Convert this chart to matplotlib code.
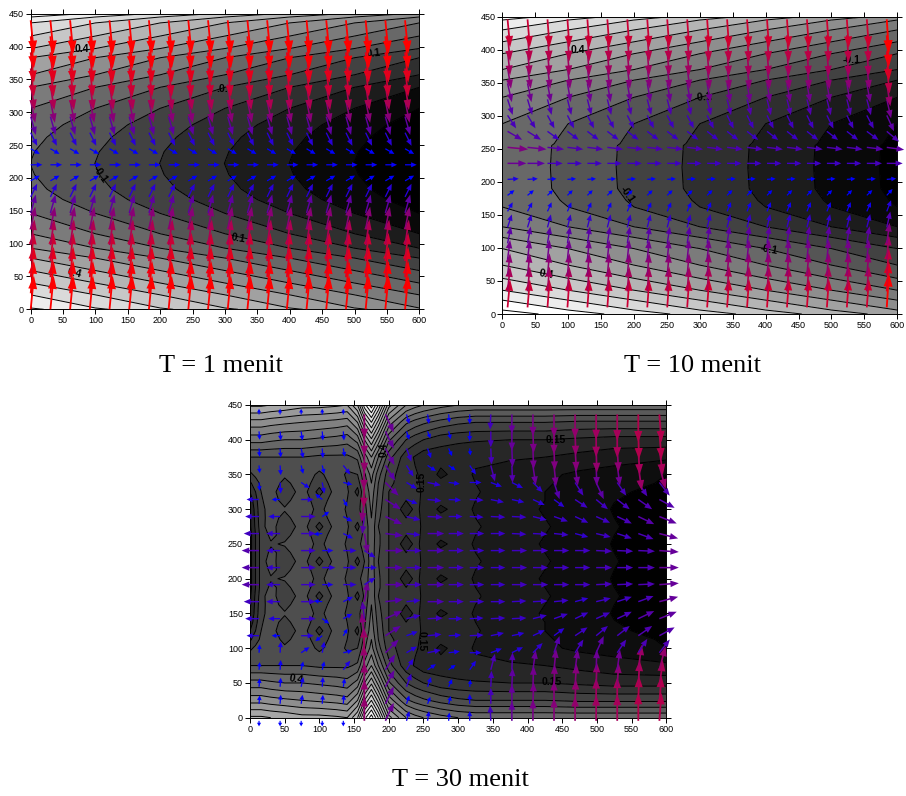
import numpy as np
import matplotlib
matplotlib.use("Agg")
import matplotlib.pyplot as plt
from matplotlib.colors import LinearSegmentedColormap, Normalize

W, H = 906, 796

# panel 1 : water level, column offset + profile along y
y1 = [0, 2, 22, 40, 59, 78, 93, 115, 146, 167, 183, 205, 222, 240, 262, 281, 306, 338, 357, 383, 397, 416, 436, 445, 450]
profile1 = [.82, .8, .7, .6, .5, .4, .3, .2, .1, .05, .025, .006, -.001, .006, .025, .05, .1, .2, .3, .4, .5, .6, .7, .8, .88]
x_grid = [0, 100, 200, 300, 400, 500, 600]
drop1 = [0, -.1, -.2, -.3, -.4, -.5, -.6]

# panel 2
y2 = [0, 6, 21, 36, 54, 74, 99, 116, 132, 162, 172, 183, 190, 222, 255, 258, 270, 288, 328, 354, 370, 394, 412, 430, 445, 450]
profile2 = [.88, .825, .725, .625, .525, .425, .325, .225, .125, .025, .013, .005, 0, -.002, 0, .004, .012, .025, .125, .225, .325, .425, .525, .625, .725, .78]
drop2 = [.075, -.025, -.125, -.225, -.325, -.425, -.525]

# arrows panel 1, by row from the centre outward
u1 = [18, 14, 10, 8, 7, 6, 5, 5, 5, 5]
v1 = [0, 8, 20, 28, 34, 39, 43, 46, 49, 51]

# arrows panel 2, by row from bottom
u2 = [3, 3, 3, 3, 4, 5, 6, 8, 13, 22, 24, 17, 10, 6, 5, 4, 3, 3, 3]
v2 = [43, 38, 34, 30, 26, 20, 14, 8, 1, 0, -3, -13, -20, -24, -29, -33, -37, -40, -43]
u_gain2 = [1.3, 1.2, 1.05, 1, 1, 1, 1, 1, 1, 1, 1, 1, 1, 1, 1, 1, 1, 1, 1.05, 1.1]
v_gain2 = [.98, .98, .98, .98, .98, .98, .98, .98, .98, .98, 1, 1, 1, 1, 1, 1, 1, 1, 1, 1.2]

# panel 3 : level by row from y=225 up to y=450, bottom half is the mirror
x3 = [0, 8, 16, 30, 50, 75, 100, 125, 140, 155, 165, 175, 185, 200, 225, 238, 250, 275, 300, 325, 375, 425, 475, 525, 600]
y3_up = [225, 237.5, 250, 262.5, 275, 287.5, 300, 312.5, 325, 337.5, 350, 375, 400, 425, 450]
z3_up = [
    [.08, .15, .22, .28, .20, .28, .18, .28, .26, .18, .25, .33, .25, .20, .18, .17, .14, .125, .125, .105, .075, .055, .025, .003, -.03],
    [.08, .15, .22, .26, .235, .28, .22, .285, .25, .22, .26, .33, .255, .20, .15, .165, .14, .115, .122, .10, .075, .05, .025, 0, -.03],
    [.08, .15, .22, .245, .255, .28, .235, .29, .24, .235, .27, .33, .26, .20, .125, .16, .14, .088, .12, .095, .075, .045, .025, -.003, -.03],
    [.08, .15, .22, .26, .235, .28, .22, .285, .25, .22, .265, .335, .26, .20, .15, .165, .14, .115, .122, .10, .075, .05, .025, 0, -.028],
    [.09, .16, .23, .28, .20, .28, .18, .28, .26, .18, .26, .34, .25, .20, .18, .17, .14, .125, .125, .105, .075, .055, .025, .003, -.025],
    [.09, .165, .235, .27, .235, .28, .22, .285, .25, .22, .27, .35, .26, .20, .15, .165, .14, .115, .122, .10, .075, .05, .025, 0, -.022],
    [.10, .17, .24, .265, .255, .28, .235, .29, .24, .235, .28, .36, .27, .20, .125, .16, .14, .088, .12, .095, .075, .045, .025, -.003, -.02],
    [.12, .18, .245, .27, .235, .28, .22, .285, .25, .22, .29, .37, .28, .20, .15, .165, .14, .115, .122, .10, .073, .05, .027, .001, -.015],
    [.15, .20, .25, .28, .20, .28, .18, .28, .26, .18, .30, .38, .29, .20, .18, .17, .14, .125, .125, .105, .07, .05, .03, .005, -.01],
    [.19, .23, .26, .28, .235, .28, .22, .28, .25, .22, .32, .40, .30, .21, .175, .16, .14, .115, .122, .10, .075, .055, .035, .018, -.005],
    [.24, .26, .27, .28, .26, .28, .24, .28, .24, .25, .34, .42, .32, .22, .17, .155, .14, .088, .12, .095, .08, .06, .04, .03, .00],
    [.30, .30, .30, .30, .30, .30, .29, .29, .29, .31, .42, .50, .40, .27, .17, .145, .12, .12, .115, .11, .105, .10, .085, .07, .06],
    [.42, .42, .42, .41, .40, .40, .39, .38, .37, .42, .55, .64, .53, .36, .25, .22, .20, .17, .16, .155, .15, .15, .14, .13, .13],
    [.53, .53, .53, .52, .51, .50, .49, .48, .47, .55, .70, .80, .68, .48, .36, .33, .31, .28, .26, .25, .25, .25, .24, .24, .24],
    [.66, .66, .66, .65, .64, .62, .62, .61, .60, .70, .88, .98, .85, .62, .50, .47, .45, .42, .40, .39, .39, .39, .39, .39, .39],
]

# arrows panel 3 : one line per column, from centre row outward
u3 = [
    [-25, -25, -22, -20, -18, 1, 1, 1, 1, 0],
    [-20, -20, -20, -17, -12, 1, 1, 1, 1, 0],
    [21, 21, 21, 21, 18, 12, 3, 3, 2, 0],
    [19, 16, -12, 10, -10, 3, 3, 1, 1, 0],
    [19, 19, 14, 13, 6, 13, 10, 2, 1, 0],
    [18, 16, 5, -3, -4, -1, -1, 0, 0, 0],
    [25, 26, 25, 24, 22, 19, 14, 13, 12, 12],
    [22, 22, 20, 20, 16, 15, 10, 7, 4, 4],
    [24, 24, 24, 22, 20, 19, 12, 5, 4, 2],
    [22, 22, 22, 20, 18, 16, 10, 5, 3, 1],
    [21, 21, 21, 20, 20, 17, 9, 1, 0, 0],
    [21, 21, 21, 21, 19, 16, 6, 1, 0, -1],
    [22, 22, 21, 21, 18, 16, 1, 1, 0, 0],
    [22, 22, 21, 20, 17, 14, 4, 1, 1, 0],
    [22, 22, 21, 20, 15, 8, 3, 1, 0, 0],
    [22, 22, 19, 19, 18, 12, 4, 2, 1, 0],
    [23, 23, 21, 20, 17, 11, 1, 1, 0, 0],
    [23, 23, 21, 21, 18, 13, 4, 2, 0, 0],
    [24, 24, 22, 23, 20, 13, 5, 2, 1, 0],
    [28, 28, 27, 25, 22, 15, 9, 5, 3, 3],
]
v3 = [
    [0, 0, 0, 0, 0, -12, -11, -12, -12, 8],
    [0, 0, 0, 0, 0, -16, -14, -13, -13, 8],
    [0, 0, 0, 0, 0, -8, -12, -14, -13, 8],
    [0, 0, -1, 7, 8, -16, -12, -14, -13, 8],
    [0, 0, -7, -7, -10, -3, -13, -12, -13, 8],
    [0, -10, -29, -25, -33, -37, -35, -35, -35, -35],
    [0, 0, -3, -11, -14, -19, -22, -24, -25, -26],
    [0, 0, -2, -5, -6, -9, -16, -19, -12, -14],
    [0, 0, 0, -1, -2, -4, -8, -14, -10, -14],
    [0, 0, 0, 0, -1, -2, -7, -11, -11, -12],
    [0, 0, 0, -1, -1, 0, -13, -10, -14, -14],
    [0, 0, 0, -1, -4, -6, -23, -23, -23, -22],
    [0, 0, -1, -1, -4, -8, -25, -27, -28, -28],
    [0, 0, -1, -5, -8, -14, -28, -30, -31, -31],
    [0, 0, -2, -7, -11, -24, -30, -32, -33, -33],
    [0, 0, -5, -9, -12, -19, -29, -33, -35, -35],
    [0, -1, -5, -9, -14, -24, -29, -35, -37, -37],
    [0, -1, -7, -10, -14, -19, -29, -34, -38, -38],
    [0, -1, -8, -11, -14, -20, -36, -38, -40, -40],
    [0, -2, -7, -10, -12, -19, -34, -38, -40, -40],
]

labels1 = [("0.4", 79, 397, 0), ("0.1", 530, 390, 5), (".0.", 295, 336, 0), ("-0.1", 107, 205, -55), ("0.1", 320, 108, -10), ("0.4", 67, 55, -15)]
labels2 = [("0.4", 115, 400, 0), ("-0.1", 530, 385, 0), ("-0.1", 305, 328, 5), ("-0.1", 190, 180, -55), ("-0.1", 405, 97, -10), ("0.4", 67, 60, -10)]
labels3 = [("0.4", 67, 55, -10), ("0.4", 192, 385, 90), ("0.15", 248, 340, 90), ("0.15", 247, 110, -90), ("0.15", 440, 400, 0), ("0.15", 435, 52, 0)]

captions = ["T = 1 menit", "T = 10 menit", "T = 30 menit"]

arrow_cmap = LinearSegmentedColormap.from_list("arrows", ["#0000ff", "#800080", "#ff0000"])
ticks_x = np.arange(0, 601, 50)
ticks_y = np.arange(0, 451, 50)
levels = np.arange(-0.6, 1.01, 0.1)
levels3 = np.arange(-0.05, 1.01, 0.05)

plt.rcParams["font.family"] = ["Liberation Sans", "DejaVu Sans"]
fig = plt.figure(figsize=(W / 100, H / 100), dpi=100)


def make_axes(left, right, top, bottom):
    ax = fig.add_axes([left / W, 1 - bottom / H, (right - left) / W, (bottom - top) / H])
    ax.set_xlim(0, 600)
    ax.set_ylim(0, 450)
    ax.set_xticks(ticks_x)
    ax.set_yticks(ticks_y)
    ax.tick_params(top=True, right=True, direction="out", length=3.5, width=0.7, labelsize=6.5, pad=1.5)
    for s in ax.spines.values():
        s.set_linewidth(0.7)
    return ax


def draw_field(ax, x, y, z, lev, vmin, vmax):
    ax.contourf(x, y, z, levels=lev, cmap="gray", vmin=vmin, vmax=vmax, extend="both")
    ax.contour(x, y, z, levels=lev, colors="k", linewidths=0.7, linestyles="solid")


def draw_arrows(ax, xs, ys, U, V, lo, hi):
    norm = Normalize(lo, hi)
    for i, x0 in enumerate(xs):
        for j, y0 in enumerate(ys):
            u, v = U[j][i], V[j][i]
            mag = np.hypot(u, v)
            if mag < 1:
                continue
            ax.arrow(x0, y0, u, v, width=min(1.4 + 0.03 * mag, 2.8), head_width=0.18 * mag + 4.5, head_length=0.34 * mag + 2.5,
                     length_includes_head=True, facecolor=arrow_cmap(norm(mag)),
                     linewidth=0, clip_on=False, zorder=5)
    ax.set_xlim(0, 600)
    ax.set_ylim(0, 450)


def draw_labels(ax, items):
    for txt, x, y, rot in items:
        ax.text(x, y, txt, fontsize=7.5, fontweight="bold", rotation=rot, ha="center", va="center", zorder=4)


# T = 1
ax1 = make_axes(30.7, 419.3, 13.7, 309.3)
z1 = np.array(profile1)[:, None] + np.array(drop1)[None, :]
draw_field(ax1, x_grid, y1, z1, levels, -0.5, 0.85)
V1 = [[s] * 20 for s in v1[:0:-1]] + [[0] * 20] + [[-s] * 20 for s in v1[1:]]
U1 = [[s] * 20 for s in u1[:0:-1]] + [[u1[0]] * 20] + [[s] * 20 for s in u1[1:]]
draw_arrows(ax1, np.linspace(0, 578, 20), np.linspace(0, 440, 19), U1, V1, 17, 50)
draw_labels(ax1, labels1)

# T = 10
ax2 = make_axes(502.3, 897.3, 16.7, 314)
z2 = np.array(profile2)[:, None] + np.array(drop2)[None, :]
draw_field(ax2, x_grid, y2, z2, levels, -0.5, 0.85)
U2 = np.outer(u2, u_gain2)
V2 = np.outer(v2, v_gain2)
draw_arrows(ax2, np.linspace(8, 584, 20), np.linspace(10, 446, 19), U2, V2, 13, 50)
draw_labels(ax2, labels2)

# T = 30
ax3 = make_axes(250, 666.3, 405, 717.7)
z_half = np.array(z3_up)
z3 = np.vstack([z_half[:0:-1], z_half])
y3 = [450 - a for a in y3_up[:0:-1]] + y3_up
draw_field(ax3, x3, y3, z3, levels3, -0.03, 0.97)
uc = np.array(u3).T
vc = np.array(v3).T
U3 = np.vstack([uc[:0:-1], uc])
V3 = np.vstack([-vc[:0:-1], vc])
draw_arrows(ax3, np.linspace(13, 590, 20), np.linspace(-4.5, 436.5, 19), U3, V3, 12, 52)
draw_labels(ax3, labels3)

for txt, cx, cy in zip(captions, [221, 693, 460], [366, 366, 780]):
    fig.text(cx / W, 1 - cy / H, txt, family="Liberation Serif", fontsize=19, ha="center", va="center")

fig.savefig("out.png", dpi=100)
